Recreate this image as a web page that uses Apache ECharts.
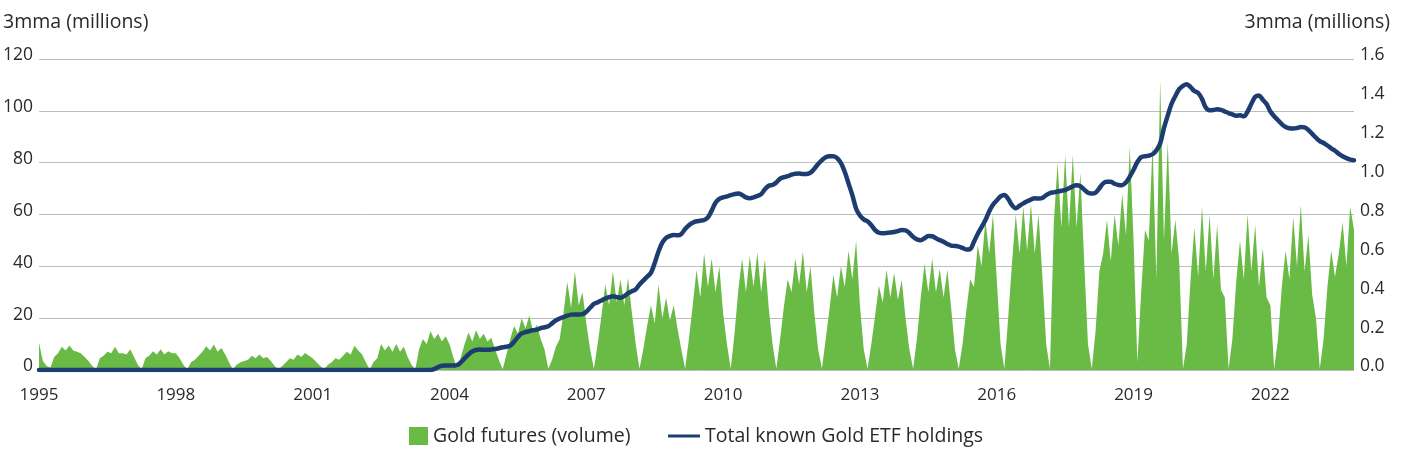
<!DOCTYPE html>
<html>
<head>
<meta charset="utf-8">
<script src="https://cdn.jsdelivr.net/npm/echarts@6/dist/echarts.min.js"></script>
<style>
html,body{margin:0;padding:0;background:#fff;}
#chart{width:1408px;height:450px;}
</style>
</head>
<body>
<div id="chart"></div>
<script>
// Monthly categories, Jan 1995 .. Nov 2023
const startYear = 1995;
const monthCount = 347;
const months = [];
for (let i = 0; i < monthCount; i++) {
  const y = startYear + Math.floor(i / 12);
  const m = (i % 12) + 1;
  months.push(y + '-' + (m < 10 ? '0' + m : m));
}

const leftTicks = [0, 20, 40, 60, 80, 100, 120];
const rightTicks = [0.0, 0.2, 0.4, 0.6, 0.8, 1.0, 1.2, 1.4, 1.6];

// Gold futures volume, 3mma (millions), left axis
const futuresVolume = [
  10.5, 3.5, 1.5, 1, 5, 6.5, 9, 7.5, 9.5, 7.5, 7, 6.5,
  5, 3.5, 1.5, 0.2, 4.5, 5.5, 7, 6.5, 9, 6.5, 6.5, 6,
  8, 5, 2, 0.2, 4.5, 5.5, 7.2, 6, 8, 6, 7.2, 6.5,
  6.5, 4.5, 2, 0.2, 3, 4, 5.5, 7, 9.2, 7.5, 9.8, 7,
  8.5, 6, 3, 0.2, 2, 3, 3.5, 4, 5.5, 4.5, 6, 4.5,
  5, 3.5, 1.5, 0.2, 1.5, 3, 4.5, 4, 6, 5, 6.6, 5.5,
  4.5, 3, 1.5, 0.2, 2, 3, 4.5, 4, 5.5, 7, 6, 9.4,
  7.5, 6, 3, 0.2, 3, 4.5, 10, 7.5, 9.5, 7, 10, 7,
  9, 5, 2, 0.2, 8, 12, 10, 15, 12, 14, 11, 13,
  10, 5, 0.5, 5, 10, 14.5, 11, 15.3, 12, 14, 11, 12.4,
  8, 4, 0.3, 6, 12, 17, 14, 20, 16, 21, 15, 17.5,
  12, 8, 0.5, 4, 9, 12, 22, 34, 24, 38, 25, 30,
  18, 8, 0.5, 10, 21, 33, 25, 38, 26, 35, 25, 35.5,
  22, 10, 0.5, 8, 17, 25, 18, 33, 20, 28, 19, 25,
  16, 8, 0.5, 12, 25, 38.6, 28, 45, 32, 43, 30, 40,
  22, 10, 0.5, 14, 31, 43, 30, 44, 32, 45.3, 30, 42.8,
  24, 10, 0.5, 12, 24.5, 35, 30, 43, 33, 45.7, 30, 40,
  22, 8, 0.5, 12, 23.5, 36.7, 28, 40, 32, 46, 35, 50,
  25, 8, 0.5, 10, 21, 32.5, 26, 38.7, 28, 37.4, 27, 34.8,
  20, 8, 0.5, 12, 28, 41, 30, 43, 30, 39, 28, 38.7,
  24, 8, 0.5, 10, 23, 35, 32, 48, 40, 58, 45, 60,
  35, 10, 0.5, 20, 41, 60, 45, 63, 46, 64, 45, 60,
  36, 10, 0.5, 56, 80, 55, 83, 55, 83, 55, 76, 42,
  10, 0.5, 15, 38, 45, 58, 42, 60, 48, 68, 52, 86,
  50, 3, 30, 54, 50, 87, 35, 111.7, 50, 88, 45, 58,
  42, 0.5, 10, 35, 55, 36, 63, 38, 60, 35, 56, 31,
  28, 0.5, 12, 34, 50, 35, 60, 38, 56, 32, 47, 28,
  25, 0.5, 12, 32, 46, 35, 59, 40, 63.7, 38, 52, 29,
  20, 0.5, 12, 32, 46, 36, 45, 57, 40, 63, 54
];

// Total known gold ETF holdings, 3mma (millions), right axis
const etfHoldings = [
  0,0,0,0,0,0,0,0,0,0,0,0,
  0,0,0,0,0,0,0,0,0,0,0,0,
  0,0,0,0,0,0,0,0,0,0,0,0,
  0,0,0,0,0,0,0,0,0,0,0,0,
  0,0,0,0,0,0,0,0,0,0,0,0,
  0,0,0,0,0,0,0,0,0,0,0,0,
  0,0,0,0,0,0,0,0,0,0,0,0,
  0,0,0,0,0,0,0,0,0,0,0,0,
  0,0,0,0,0,0,0,0,0.005,0.015,0.022,0.023,
  0.023,0.023,0.025,0.04,0.06,0.08,0.095,0.103,0.105,0.104,0.104,0.105,
  0.108,0.112,0.117,0.12,0.125,0.145,0.17,0.188,0.195,0.2,0.205,0.208,
  0.215,0.22,0.225,0.24,0.255,0.265,0.272,0.28,0.285,0.286,0.285,0.287,
  0.3,0.32,0.34,0.348,0.358,0.368,0.375,0.38,0.375,0.372,0.38,0.395,
  0.405,0.415,0.44,0.46,0.48,0.5,0.55,0.61,0.655,0.68,0.69,0.695,
  0.693,0.7,0.725,0.745,0.758,0.765,0.768,0.772,0.785,0.82,0.86,0.88,
  0.888,0.893,0.9,0.905,0.908,0.9,0.888,0.883,0.888,0.895,0.905,0.93,
  0.948,0.952,0.965,0.985,0.992,0.997,1.005,1.01,1.011,1.009,1.009,1.015,
  1.035,1.06,1.08,1.095,1.1,1.1,1.09,1.065,1.02,0.96,0.9,0.83,
  0.795,0.775,0.765,0.745,0.72,0.706,0.703,0.705,0.707,0.71,0.715,0.72,
  0.718,0.705,0.685,0.672,0.668,0.678,0.69,0.688,0.678,0.668,0.66,0.648,
  0.64,0.638,0.635,0.628,0.62,0.622,0.66,0.7,0.735,0.77,0.815,0.85,
  0.872,0.893,0.9,0.88,0.848,0.832,0.845,0.857,0.868,0.877,0.883,0.882,
  0.885,0.9,0.91,0.914,0.918,0.922,0.926,0.935,0.945,0.95,0.945,0.928,
  0.912,0.908,0.912,0.935,0.96,0.968,0.968,0.958,0.952,0.951,0.965,0.995,
  1.03,1.07,1.095,1.1,1.103,1.11,1.13,1.165,1.245,1.31,1.37,1.41,
  1.445,1.462,1.47,1.455,1.435,1.425,1.395,1.35,1.336,1.338,1.342,1.338,
  1.33,1.322,1.315,1.308,1.31,1.305,1.33,1.37,1.405,1.412,1.39,1.368,
  1.33,1.305,1.285,1.265,1.25,1.244,1.242,1.245,1.25,1.248,1.235,1.215,
  1.195,1.178,1.168,1.155,1.14,1.128,1.112,1.1,1.09,1.082,1.079
];

const GREEN = '#6abb45';
const NAVY = '#1d3d70';
const TEXT = '#2a2a2a';
const FONT = 'Open Sans';

const chart = echarts.init(document.getElementById('chart'), null, {renderer: 'canvas'});
chart.setOption({
  animation: false,
  backgroundColor: '#ffffff',
  textStyle: {fontFamily: FONT, color: TEXT},
  grid: {left: 39, right: 54, top: 59, bottom: 80, containLabel: false},
  legend: [
    {
      data: ['Gold futures (volume)'],
      left: 404, top: 421,
      icon: 'rect', itemWidth: 19, itemHeight: 18,
      textStyle: {fontFamily: FONT, fontSize: 19.5, color: TEXT}
    },
    {
      data: ['Total known Gold ETF holdings'],
      left: 663, top: 421,
      icon: 'rect', itemWidth: 32, itemHeight: 3,
      textStyle: {fontFamily: FONT, fontSize: 19.5, color: TEXT}
    }
  ],
  xAxis: {
    type: 'category',
    data: months,
    boundaryGap: false,
    axisLine: {show: false},
    axisTick: {show: false},
    splitLine: {show: false},
    axisLabel: {
      interval: 35,
      margin: 17,
      fontFamily: FONT, fontSize: 17, color: TEXT,
      formatter: v => v.slice(0, 4)
    }
  },
  yAxis: [
    {
      type: 'value',
      min: leftTicks[0], max: leftTicks[leftTicks.length - 1], interval: 20,
      name: '3mma (millions)',
      nameLocation: 'end',
      nameGap: 27,
      nameTextStyle: {fontFamily: FONT, fontSize: 19.5, color: TEXT, align: 'left', padding: [0, 0, 0, -36]},
      axisLine: {show: false},
      axisTick: {show: false},
      splitLine: {show: true, lineStyle: {color: '#bdbdbd', width: 1}},
      axisLabel: {margin: 6, fontFamily: FONT, fontSize: 17.5, color: TEXT, verticalAlign: 'bottom', lineHeight: 7}
    },
    {
      type: 'value',
      position: 'right',
      min: rightTicks[0], max: rightTicks[rightTicks.length - 1], interval: 0.2,
      name: '3mma (millions)',
      nameLocation: 'end',
      nameGap: 27,
      nameTextStyle: {fontFamily: FONT, fontSize: 19.5, color: TEXT, align: 'right', padding: [0, -36, 0, 0]},
      axisLine: {show: false},
      axisTick: {show: false},
      splitLine: {show: false},
      axisLabel: {margin: 6, fontFamily: FONT, fontSize: 17.5, color: TEXT, verticalAlign: 'bottom', lineHeight: 7,
        formatter: v => v.toFixed(1)}
    }
  ],
  series: [
    {
      name: 'Gold futures (volume)',
      type: 'line',
      yAxisIndex: 0,
      data: futuresVolume,
      symbol: 'none',
      itemStyle: {color: GREEN},
      lineStyle: {width: 0, color: GREEN},
      areaStyle: {color: GREEN, opacity: 1},
      z: 2
    },
    {
      name: 'Total known Gold ETF holdings',
      type: 'line',
      yAxisIndex: 1,
      data: etfHoldings,
      symbol: 'none',
      smooth: 0.35,
      itemStyle: {color: NAVY},
      lineStyle: {width: 4.5, color: NAVY, cap: 'round', join: 'round'},
      z: 3
    }
  ]
});
</script>
</body>
</html>
